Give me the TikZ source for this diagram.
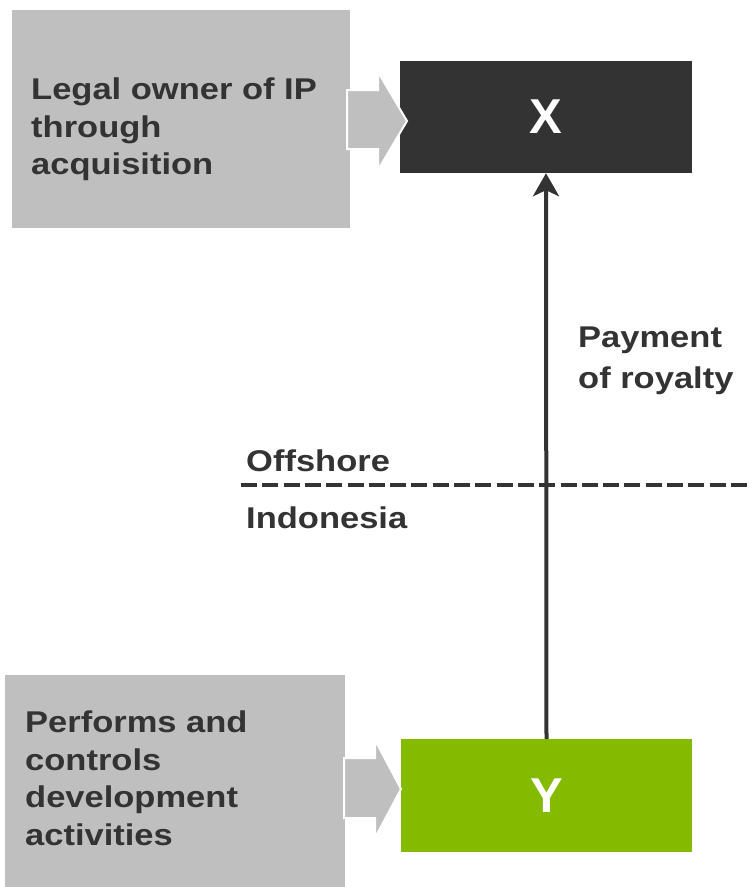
\documentclass[tikz,border=0pt]{standalone}
\usepackage{fontspec}
\setmainfont{Liberation Sans}
\newfontfamily\widesans[FakeStretch=1.15]{Liberation Sans}
\usetikzlibrary{arrows.meta}
\definecolor{boxgrey}{HTML}{BFBFBF}
\definecolor{darkbox}{HTML}{333333}
\definecolor{greenbox}{HTML}{84BB00}
\definecolor{txt}{HTML}{333333}
\begin{document}
\begin{tikzpicture}[x=1pt,y=-1pt,
  greybox/.style={fill=boxgrey,draw=none,inner sep=0pt},
  entity/.style={draw=none,inner sep=0pt,minimum width=292pt,minimum height=112pt,text=white,font=\fontsize{49}{54}\selectfont\bfseries},
  boxtext/.style={inner sep=0pt,anchor=north west,align=left,text=txt,font=\widesans\fontsize{30}{37.5}\selectfont\bfseries},
  labeltext/.style={inner sep=0pt,align=left,text=txt,font=\widesans\fontsize{30}{41}\selectfont\bfseries},
  blockarrow/.style={fill=boxgrey,draw=white,line width=2pt,line join=miter},
  flow/.style={draw=txt,line width=4pt,-{Stealth[length=23pt,width=26pt,inset=6pt]}},
  border/.style={draw=txt,line width=4pt,dash pattern=on 16pt off 5.3pt}]
\useasboundingbox (0,0) rectangle (748,887);
% grey boxes
\node[greybox,minimum width=338pt,minimum height=218pt] (legal) at (181,119) {};
\node[greybox,minimum width=340pt,minimum height=212pt] (perf) at (175,781) {};
\node[boxtext] (legaltxt) at (31,78) {Legal owner of IP\\through\\acquisition};
\node[boxtext] (perftxt) at (25,711) {Performs and\\controls\\development\\activities};
% entities
\node[entity,fill=darkbox] (X) at (546,117) {X};
\node[entity,fill=greenbox,minimum width=291pt,minimum height=113pt] (Y) at (546.5,795.5) {Y};
% block arrows
\draw[blockarrow] (347,90) -- (378,90) -- (378,72) -- (407,121) -- (378,170) -- (378,149) -- (347,149) -- cycle;
\draw[blockarrow] (344,758) -- (375,758) -- (375,740) -- (401,789) -- (375,838) -- (375,818) -- (344,818) -- cycle;
% border line
\coordinate (bl) at (241,484.5);
\coordinate (br) at (748,484.5);
\draw[border] (bl) -- (br);
\node[labeltext,anchor=base west] (off) at (246,471) {Offshore};
\node[labeltext,anchor=base west] (indo) at (246,528) {Indonesia};
% royalty flow
\draw[flow] (Y.north) -- (X.south);
\node[labeltext,anchor=north west] (pay) at (578,327) {Payment\\of royalty};
\end{tikzpicture}
\end{document}
